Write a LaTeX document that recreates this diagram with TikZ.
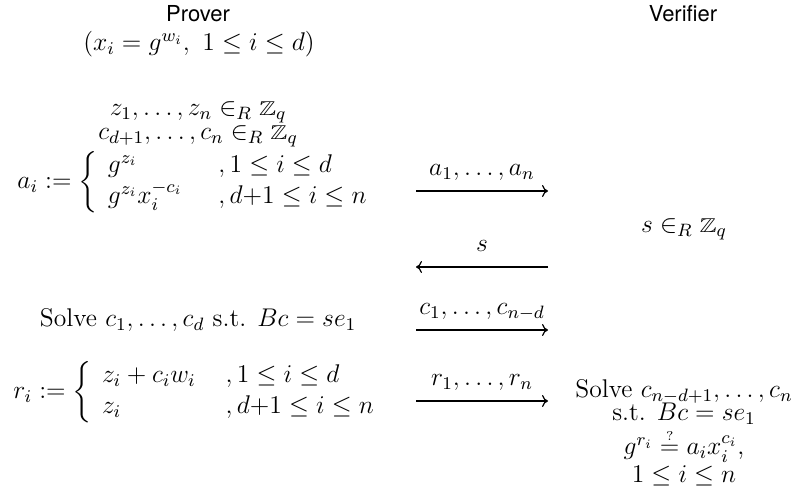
\documentclass[tikz,border=0pt,12pt]{standalone}
\usepackage{fix-cm}
\usepackage{amsmath,amssymb}
\usepackage{graphicx}
\usepackage{fontspec}
\newfontfamily\partyfont{TeX Gyre Heros}
\usetikzlibrary{arrows.meta, positioning}
\newcommand{\Zset}{\mathop{\scalebox{1}[0.78]{$\mathbb{Z}$}}\nolimits}

\begin{document}
\begin{tikzpicture}[x=0.5pt, y=-0.5pt, >={To[length=3pt, width=6pt]},
		font=\fontsize{12.8}{15.4}\selectfont,
		party/.style={font=\fontsize{11}{13}\selectfont\partyfont, anchor=base, inner sep=0pt},
		txt/.style={anchor=base, inner sep=0pt},
		msg/.style={->, line width=0.6pt},
		msglabel/.style={midway, anchor=base, inner sep=0pt, yshift=7.5pt}]
	\useasboundingbox (0,0) rectangle (793,496);
	
	% prover side
	\node[party] (prover) at (198,22) {Prover};
	\node[txt] (secret) at (199,51) {$(x_i = g^{w_i},\ 1 \le i \le d)$};
	\node[txt] (zrand) at (198,116) {$z_1, \ldots, z_n \in_R {\Zset}_q$};
	\node[txt] (crand) at (198,140) {$c_{d+1}, \ldots, c_n \in_R {\Zset}_q$};
	\node[anchor=west, inner sep=0pt] (commit) at (17,182) {$a_i := \left\{ \begin{array}{l@{\hspace{18pt}}l}
			g^{z_i} & , 1 \le i \le d \\
			g^{z_i} x_i^{-c_i} & , d{+}1 \le i \le n
		\end{array} \right.$};
	\node[txt] (solvep) at (198,327) {Solve $c_1, \ldots, c_d$ s.t. $Bc = se_1$};
	\node[anchor=west, inner sep=0pt] (resp) at (13,392) {$r_i := \left\{ \begin{array}{l@{\hspace{15pt}}l}
			z_i + c_i w_i & , 1 \le i \le d \\
			z_i & , d{+}1 \le i \le n
		\end{array} \right.$};
	
	% verifier side
	\node[party] (verifier) at (683,22) {Verifier};
	\node[txt] (chal) at (684,233) {$s \in_R {\Zset}_q$};
	\node[txt] (solvev) at (684,398) {Solve $c_{n-d+1}, \ldots, c_n$};
	\node[txt] (st) at (684,421) {s.t. $Bc = se_1$};
	\node[txt] (verify) at (684,455) {$g^{r_i} \stackrel{\scriptscriptstyle ?}{=} a_i x_i^{c_i}$,};
	\node[txt] (range) at (684,483) {$1 \le i \le n$};
	
	% messages
	\coordinate (m1-l) at (416,191);
	\coordinate (m1-r) at (548,191);
	\coordinate (m2-l) at (416,267);
	\coordinate (m2-r) at (548,267);
	\coordinate (m3-l) at (416,330);
	\coordinate (m3-r) at (548,330);
	\coordinate (m4-l) at (416,401);
	\coordinate (m4-r) at (548,401);
	\draw[msg] (m1-l) -- (m1-r) node[msglabel] (m1-txt) {$a_1, \ldots, a_n$};
	\draw[msg] (m2-r) -- (m2-l) node[msglabel] (m2-txt) {$s$};
	\draw[msg] (m3-l) -- (m3-r) node[msglabel] (m3-txt) {$c_1, \ldots, c_{n-d}$};
	\draw[msg] (m4-l) -- (m4-r) node[msglabel] (m4-txt) {$r_1, \ldots, r_n$};
\end{tikzpicture}
\end{document}
